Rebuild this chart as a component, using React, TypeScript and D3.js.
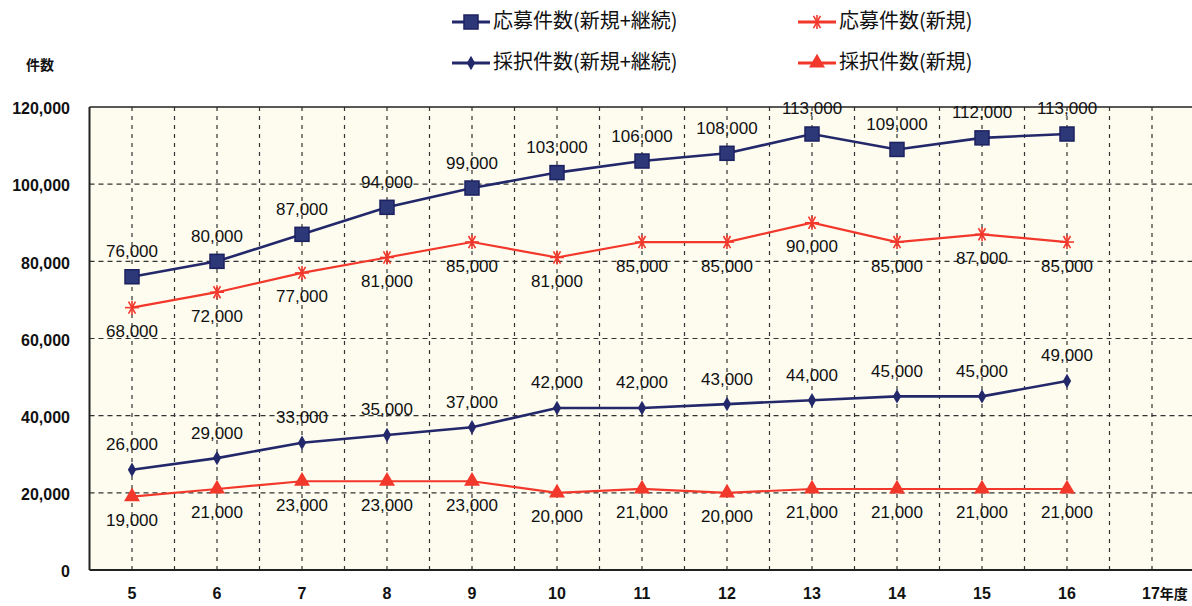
import React, { useEffect, useRef } from 'react';
import * as d3 from 'd3';

const years = ['5', '6', '7', '8', '9', '10', '11', '12', '13', '14', '15', '16', '17'];
const applyTotal = [76000, 80000, 87000, 94000, 99000, 103000, 106000, 108000, 113000, 109000, 112000, 113000];
const applyNew = [68000, 72000, 77000, 81000, 85000, 81000, 85000, 85000, 90000, 85000, 87000, 85000];
const adoptTotal = [26000, 29000, 33000, 35000, 37000, 42000, 42000, 43000, 44000, 45000, 45000, 49000];
const adoptNew = [19000, 21000, 23000, 23000, 23000, 20000, 21000, 20000, 21000, 21000, 21000, 21000];
const yTicks = [0, 20000, 40000, 60000, 80000, 100000, 120000];

const NAVY = '#23286a';
const RED = '#f2372b';

const series = [
  { name: '応募件数(新規+継続)', values: applyTotal, color: NAVY, marker: 'square', labelDy: -24 },
  { name: '応募件数(新規)', values: applyNew, color: RED, marker: 'star', labelDy: 25 },
  { name: '採択件数(新規+継続)', values: adoptTotal, color: NAVY, marker: 'diamond', labelDy: -24 },
  { name: '採択件数(新規)', values: adoptNew, color: RED, marker: 'triangle', labelDy: 25 },
];

function drawMarker(g: any, type: string, color: string) {
  if (type === 'square') {
    g.append('rect').attr('x', -7).attr('y', -7).attr('width', 14).attr('height', 14)
      .attr('fill', '#2d3878').attr('stroke', '#1c2160').attr('stroke-width', 1.5);
  } else if (type === 'diamond') {
    g.append('path').attr('d', d3.symbol(d3.symbolDiamond, 60)()).attr('fill', NAVY);
  } else if (type === 'triangle') {
    g.append('path').attr('d', d3.symbol(d3.symbolTriangle, 110)()).attr('fill', color);
  } else {
    const r = 7;
    [0, 60, 120].forEach(a => {
      const rad = (a * Math.PI) / 180;
      g.append('line')
        .attr('x1', -r * Math.cos(rad)).attr('y1', -r * Math.sin(rad))
        .attr('x2', r * Math.cos(rad)).attr('y2', r * Math.sin(rad))
        .attr('stroke', color).attr('stroke-width', 1.6);
    });
    g.append('line').attr('x1', 0).attr('y1', -r).attr('x2', 0).attr('y2', r)
      .attr('stroke', color).attr('stroke-width', 1.6);
  }
}

export default function App() {
  const ref = useRef<SVGSVGElement>(null);

  useEffect(() => {
    const svg = d3.select(ref.current);
    svg.selectAll('*').remove();

    const left = 89.5;
    const top = 107;
    const bottom = 570;
    const band = 85;
    const right = left + band * years.length;

    const x = d3.scaleBand().domain(years).range([left, right]).padding(0);
    const y = d3.scaleLinear().domain([0, 120000]).range([bottom, top]);
    const cx = (i: number) => (x(years[i]) as number) + x.bandwidth() / 2;

    // plot background
    svg.append('rect').attr('x', left).attr('y', top)
      .attr('width', right - left).attr('height', bottom - top)
      .attr('fill', '#fdfcef');

    // horizontal grid
    svg.append('g').selectAll('line')
      .data(yTicks.filter(t => t > 0 && t < 120000))
      .enter().append('line')
      .attr('x1', left).attr('x2', right)
      .attr('y1', d => y(d)).attr('y2', d => y(d))
      .attr('stroke', '#333').attr('stroke-width', 1.2).attr('stroke-dasharray', '5,4');

    // vertical grid: band centres and band edges
    const vx: number[] = [];
    years.forEach((yr, i) => {
      vx.push(cx(i));
      if (i > 0) vx.push(x(yr) as number);
    });
    svg.append('g').selectAll('line')
      .data(vx).enter().append('line')
      .attr('x1', d => d).attr('x2', d => d)
      .attr('y1', top).attr('y2', bottom)
      .attr('stroke', '#333').attr('stroke-width', 1.2).attr('stroke-dasharray', '4,5');

    // frame
    svg.append('line').attr('x1', left).attr('x2', right).attr('y1', top).attr('y2', top)
      .attr('stroke', '#222').attr('stroke-width', 1.5);
    svg.append('line').attr('x1', left).attr('x2', right).attr('y1', bottom).attr('y2', bottom)
      .attr('stroke', '#222').attr('stroke-width', 2);
    svg.append('line').attr('x1', left).attr('x2', left).attr('y1', top).attr('y2', bottom)
      .attr('stroke', '#222').attr('stroke-width', 2);

    // y tick labels
    svg.append('g').selectAll('text')
      .data(yTicks).enter().append('text')
      .attr('x', 70).attr('y', d => y(d) + 3)
      .attr('text-anchor', 'end').attr('dominant-baseline', 'middle')
      .style('font-family', '"Liberation Sans", Arial, sans-serif')
      .style('font-size', '16px').style('font-weight', 'bold').attr('fill', '#111')
      .text(d => d3.format(',')(d));

    svg.append('text').attr('x', 40).attr('y', 66)
      .attr('text-anchor', 'middle').attr('dominant-baseline', 'middle')
      .style('font-family', '"Noto Sans CJK JP", sans-serif')
      .style('font-size', '14px').style('font-weight', 'bold').attr('fill', '#111')
      .text('件数');

    // x tick labels
    const xl = svg.append('g').selectAll('text')
      .data(years).enter().append('text')
      .attr('x', (d, i) => cx(i)).attr('y', 595)
      .attr('text-anchor', 'middle').attr('dominant-baseline', 'middle')
      .style('font-family', '"Liberation Sans", Arial, sans-serif')
      .style('font-size', '16px').style('font-weight', 'bold').attr('fill', '#111');
    xl.filter(d => d !== '17').text(d => d);
    const last = xl.filter(d => d === '17').attr('text-anchor', 'start').attr('x', cx(12) - 10);
    last.append('tspan').text('17');
    last.append('tspan').style('font-family', '"Noto Sans CJK JP", sans-serif')
      .style('font-size', '14px').text('年度');

    // lines, markers, labels
    series.forEach(s => {
      const line = d3.line<number>().x((d, i) => cx(i)).y(d => y(d));
      svg.append('path').datum(s.values).attr('d', line)
        .attr('fill', 'none').attr('stroke', s.color)
        .attr('stroke-width', s.color === NAVY ? 2.6 : 2.2);

      s.values.forEach((v, i) => {
        const g = svg.append('g').attr('transform', `translate(${cx(i)},${y(v)})`);
        drawMarker(g, s.marker, s.color);
      });

      svg.append('g').selectAll('text')
        .data(s.values).enter().append('text')
        .attr('x', (d, i) => cx(i)).attr('y', d => y(d) + s.labelDy)
        .attr('text-anchor', 'middle').attr('dominant-baseline', 'middle')
        .style('font-family', '"Liberation Sans", Arial, sans-serif')
        .style('font-size', '17px').attr('fill', '#111')
        .text(d => d3.format(',')(d));
    });

    // legend
    const legendPos = [
      { x: 452, y: 22 },
      { x: 798, y: 22 },
      { x: 452, y: 63 },
      { x: 798, y: 63 },
    ];
    series.forEach((s, i) => {
      const p = legendPos[i];
      const lg = svg.append('g').attr('transform', `translate(${p.x},${p.y})`);
      lg.append('line').attr('x1', 0).attr('x2', 38).attr('y1', 0).attr('y2', 0)
        .attr('stroke', s.color).attr('stroke-width', 3);
      drawMarker(lg.append('g').attr('transform', 'translate(19,0)'), s.marker, s.color);
      lg.append('text').attr('x', 41).attr('y', 1)
        .attr('dominant-baseline', 'middle')
        .style('font-family', '"Noto Sans CJK JP", sans-serif')
        .style('font-size', '20px').attr('fill', '#111')
        .text(s.name);
    });
  }, []);

  return (
    <svg ref={ref} width={1192} height={606}
      style={{ position: 'absolute', left: 0, top: 0, background: '#fff' }} />
  );
}
